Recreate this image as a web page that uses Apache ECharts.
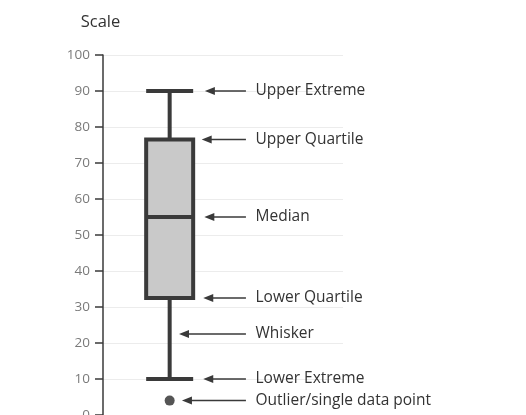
<!DOCTYPE html>
<html>
<head>
<meta charset="utf-8">
<script src="https://cdn.jsdelivr.net/npm/echarts@6/dist/echarts.min.js"></script>
<style>
html,body{margin:0;padding:0;background:#fff;}
#chart{width:526px;height:415px;}
</style>
</head>
<body>
<div id="chart"></div>
<script>
// ---- data ----
const categories = ['', '', 'Sample', '', '', '', '', '', ''];
const boxCategoryIndex = 2;
const boxStats = [10, 32.5, 55, 76.5, 90]; // min, Q1, median, Q3, max
const outlierValues = [4];
const yTicks = { min: 0, max: 100, interval: 10 };
const annotationLabels = ['Upper Extreme', 'Upper Quartile', 'Median', 'Lower Quartile', 'Whisker', 'Lower Extreme', 'Outlier/single data point'];
const annotationValues = [90, 76.5, 55, 32.5, 22.5, 10, 4];
const arrowHeadX = [3.82, 3.70, 3.80, 3.76, 2.85, 3.76, 2.96];
const arrowTailX = 5.36;
const labelX = 5.72;

const dark = '#3a3a3a';
const chart = echarts.init(document.getElementById('chart'));

const annotationData = annotationLabels.map((t, i) => [arrowHeadX[i], annotationValues[i], t]);
const boxData = categories.map((c, i) => i === boxCategoryIndex ? boxStats : '-');

chart.setOption({
  animation: false,
  grid: { left: 103, right: 183, top: 55, bottom: 0, containLabel: false, outerBoundsMode: 'none' },
  xAxis: [
    { type: 'category', data: categories, show: false },
    { type: 'value', min: 0, max: categories.length, show: false }
  ],
  yAxis: {
    type: 'value', min: yTicks.min, max: yTicks.max, interval: yTicks.interval,
    name: 'Scale', nameLocation: 'end', nameGap: 24,
    nameTextStyle: { color: '#333', fontSize: 16.5, fontFamily: 'Open Sans', align: 'center', padding: [0, 5, 0, 0] },
    axisLine: { show: true, lineStyle: { color: dark, width: 1.5 } },
    axisTick: { show: true, length: 8, lineStyle: { color: dark, width: 1.5 } },
    axisLabel: { color: '#7a7a7a', fontSize: 13.5, fontFamily: 'Open Sans', margin: 13 },
    splitLine: { show: true, lineStyle: { color: '#ececec', width: 1 } }
  },
  series: [
    {
      type: 'boxplot',
      xAxisIndex: 0,
      data: boxData,
      boxWidth: [47, 47],
      itemStyle: { color: '#c9c9c9', borderColor: dark, borderWidth: 4 },
      silent: true
    },
    {
      type: 'scatter',
      xAxisIndex: 0,
      data: outlierValues.map(v => [boxCategoryIndex, v]),
      symbolSize: 10,
      itemStyle: { color: '#2a2a2a' },
      silent: true
    },
    {
      type: 'custom',
      xAxisIndex: 1,
      data: annotationData,
      silent: true,
      renderItem: function (params, api) {
        const y = api.value(1);
        const head = api.coord([api.value(0), y]);
        const tail = api.coord([arrowTailX, y]);
        const lab = api.coord([labelX, y]);
        const text = annotationData[params.dataIndex][2];
        const aLen = 10, aHalf = 4;
        return {
          type: 'group',
          children: [
            { type: 'line', shape: { x1: head[0] + aLen - 1, y1: head[1], x2: tail[0], y2: tail[1] },
              style: { stroke: dark, lineWidth: 1.5 } },
            { type: 'polygon', shape: { points: [[head[0], head[1]], [head[0] + aLen, head[1] - aHalf], [head[0] + aLen, head[1] + aHalf]] },
              style: { fill: dark } },
            { type: 'text', x: lab[0], y: lab[1],
              style: { text: text, fill: '#333', font: '15.5px "Open Sans"', textAlign: 'left', textVerticalAlign: 'middle' } }
          ]
        };
      }
    }
  ]
});
</script>
</body>
</html>
